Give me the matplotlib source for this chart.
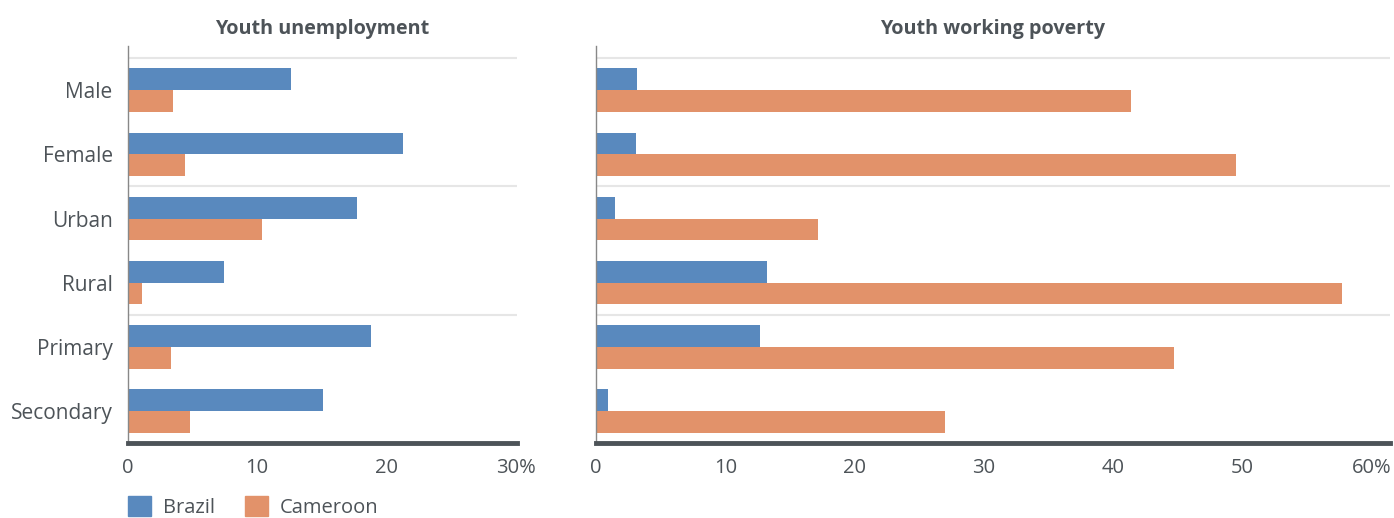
import numpy as np
import matplotlib.pyplot as plt
from matplotlib.patches import Patch

# данные
categories = ["Male", "Female", "Urban", "Rural", "Primary", "Secondary"]
unemp_brazil = [12.6, 21.3, 17.7, 7.4, 18.8, 15.1]
unemp_cameroon = [3.5, 4.4, 10.4, 1.1, 3.3, 4.8]
poverty_brazil = [3.2, 3.1, 1.5, 13.2, 12.7, 0.9]
poverty_cameroon = [41.4, 49.5, 17.2, 57.7, 44.7, 27.0]
unemp_ticks = [0, 10, 20, 30]
unemp_ticklabels = ["0", "10", "20", "30%"]
poverty_ticks = [0, 10, 20, 30, 40, 50, 60]
poverty_ticklabels = ["0", "10", "20", "30", "40", "50", "60%"]

BLUE = "#5989be"
ORANGE = "#e2926a"
DARK = "#4d5358"
GRID = "#e6e6e6"

plt.rcParams["font.family"] = ["Open Sans", "DejaVu Sans"]

fig = plt.figure(figsize=(13.94, 5.18), dpi=100)
ax1 = fig.add_axes([0.0918, 0.1448, 0.2790, 0.7664])
ax2 = fig.add_axes([0.4275, 0.1448, 0.5696, 0.7664])

y = np.arange(len(categories))
h = 0.34


def draw(ax, brazil, cameroon, xmax, ticks, ticklabels, title):
    ax.barh(y - h / 2, brazil, height=h, color=BLUE)
    ax.barh(y + h / 2, cameroon, height=h, color=ORANGE)
    ax.set_xlim(0, xmax)
    ax.set_ylim(5.5, -0.69)
    # светлые горизонтальные линии через каждые две категории
    for g in [-0.5, 1.5, 3.5]:
        ax.axhline(g, color=GRID, lw=1.5, zorder=0)
    ax.set_xticks(ticks)
    ax.set_xticklabels(ticklabels)
    ax.tick_params(axis="x", length=0, pad=11, labelsize=14.5, labelcolor=DARK)
    ax.tick_params(axis="y", length=0, pad=11, labelsize=15, labelcolor=DARK)
    for s in ["top", "right"]:
        ax.spines[s].set_visible(False)
    ax.spines["left"].set_color("#888888")
    ax.spines["left"].set_linewidth(1)
    ax.spines["bottom"].set_color(DARK)
    ax.spines["bottom"].set_linewidth(3.5)
    ax.set_title(title, fontsize=14.2, fontweight="bold", color=DARK, pad=8.5)


draw(ax1, unemp_brazil, unemp_cameroon, 30.1, unemp_ticks, unemp_ticklabels, "Youth unemployment")
ax1.set_yticks(y)
ax1.set_yticklabels(categories)

draw(ax2, poverty_brazil, poverty_cameroon, 61.4, poverty_ticks, poverty_ticklabels, "Youth working poverty")
ax2.set_yticks([])

# легенда
handles = [Patch(color=BLUE, label="Brazil"), Patch(color=ORANGE, label="Cameroon")]
fig.legend(handles=handles, loc="lower left", bbox_to_anchor=(0.079, -0.035), ncol=2,
           frameon=False, fontsize=14.5, handlelength=1.15, handleheight=1.15,
           columnspacing=1.45, handletextpad=0.6, labelcolor=DARK)

plt.savefig("out.png", dpi=100)
